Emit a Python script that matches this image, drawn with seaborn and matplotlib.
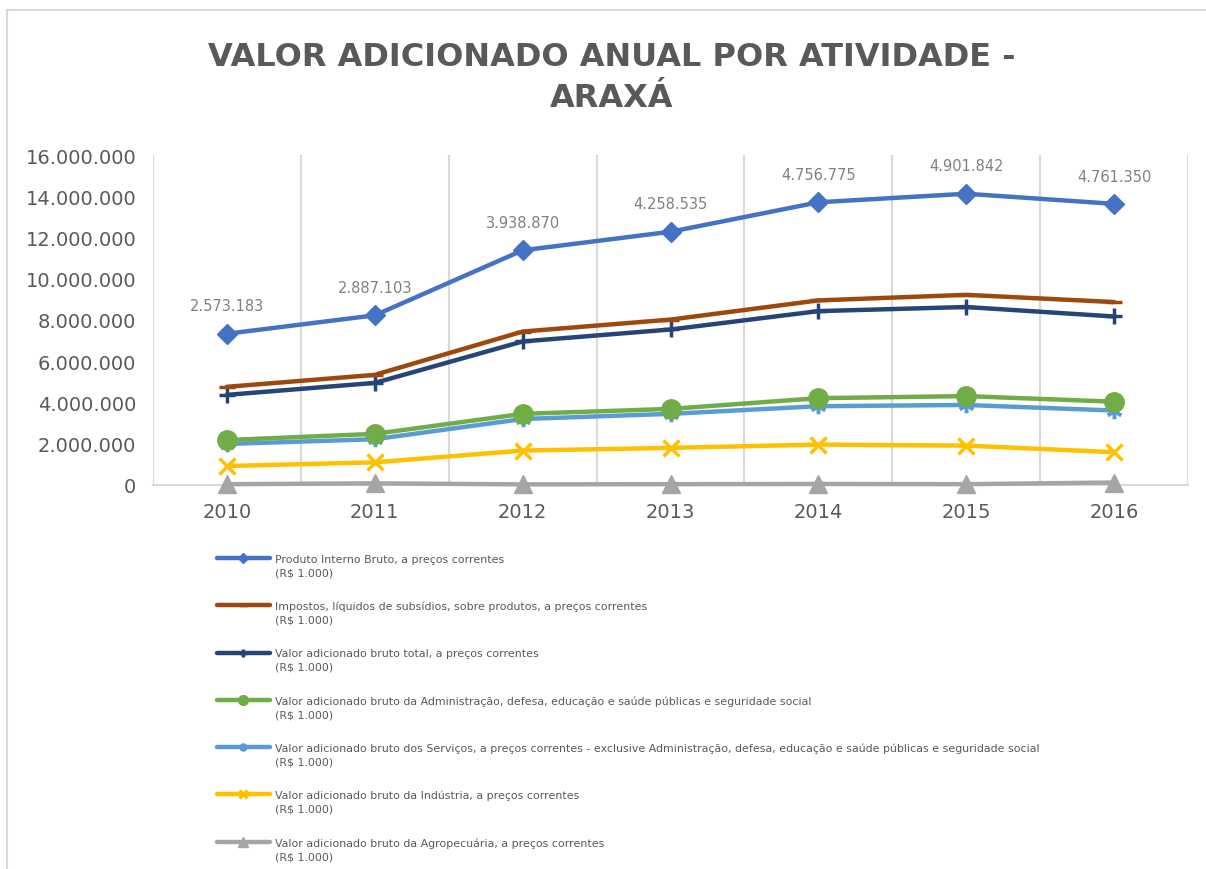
import matplotlib.pyplot as plt
from matplotlib.patches import Rectangle
from matplotlib.ticker import FuncFormatter
from matplotlib.legend_handler import HandlerLine2D
import seaborn as sns
import pandas as pd
import numpy as np

# valores em R$ 1.000 (grafico de linhas empilhadas, como no Excel)
anos = [2010, 2011, 2012, 2013, 2014, 2015, 2016]
pib = [2573183, 2887103, 3938870, 4258535, 4756775, 4901842, 4761350]
impostos = [390000, 390000, 480000, 480000, 520000, 590000, 700000]
va_total = [2190000, 2470000, 3510000, 3850000, 4220000, 4320000, 4130000]
admin = [190000, 260000, 250000, 240000, 390000, 430000, 430000]
servicos = [1070000, 1120000, 1530000, 1650000, 1860000, 1970000, 2020000]
industria = [880000, 1020000, 1640000, 1760000, 1910000, 1870000, 1470000]
agro = [40000, 80000, 30000, 40000, 50000, 40000, 120000]

nomes = [
    'Valor adicionado bruto da Agropecuária, a preços correntes',
    'Valor adicionado bruto da Indústria, a preços correntes',
    'Valor adicionado bruto dos Serviços, a preços correntes - exclusive Administração, defesa, educação e saúde públicas e seguridade social',
    'Valor adicionado bruto da Administração, defesa, educação e saúde públicas e seguridade social',
    'Valor adicionado bruto total, a preços correntes',
    'Impostos, líquidos de subsídios, sobre produtos, a preços correntes',
    'Produto Interno Bruto, a preços correntes',
]
valores = [agro, industria, servicos, admin, va_total, impostos, pib]

# estilo de cada serie (mesma ordem de empilhamento)
cores = ['#A5A5A5', '#FFC000', '#5B9BD5', '#70AD47', '#264478', '#9E480E', '#4472C4']
marcadores = ['^', 'x', (6, 2, 0), 'o', '+', '_', 'D']
tamanhos = [13, 11, 11, 14, 12, 11, 10]


class HandlerTopo(HandlerLine2D):
    """sobe o simbolo da legenda para a primeira linha do texto"""
    def create_artists(self, legend, orig_handle, xdescent, ydescent, width,
                       height, fontsize, trans):
        arts = super().create_artists(legend, orig_handle, xdescent, ydescent,
                                      width, height, fontsize, trans)
        for a in arts:
            a.set_ydata(np.asarray(a.get_ydata()) + 5.5)
        return arts


# monta tabela longa com o acumulado
partes = []
acum = np.zeros(len(anos))
for nome, v in zip(nomes, valores):
    acum = acum + np.array(v)
    partes.append(pd.DataFrame({'ano': anos, 'valor': v, 'acumulado': acum.copy(),
                                'serie': nome + '\n(R$ 1.000)'}))
df = pd.concat(partes, ignore_index=True)

sns.set_style('white')
plt.rcParams['font.family'] = ['DejaVu Sans']

fig = plt.figure(figsize=(12.06, 8.7), dpi=100)
ax = fig.add_axes([153/1206, 1-486/870, (1188-153)/1206, (486-156)/870])

for i, serie in enumerate(df['serie'].unique()):
    sub = df[df['serie'] == serie]
    sns.lineplot(data=sub, x='ano', y='acumulado', ax=ax, color=cores[i],
                 marker=marcadores[i], markersize=tamanhos[i], lw=3.2,
                 mec=cores[i], mew=2.5 if i in (1, 2, 4, 5) else 1,
                 label=serie, zorder=3 + i, clip_on=False)

# rotulos do PIB
sub = df[df['serie'].str.startswith('Produto')]
for _, r in sub.iterrows():
    ax.annotate(f"{int(r['valor']):,}".replace(',', '.'), (r['ano'], r['acumulado']),
                xytext=(0, 20), textcoords='offset points', ha='center', va='center',
                fontsize=10.5, color='#808080')

ax.set_xlim(2009.5, 2016.5)
ax.set_ylim(0, 16000000)
ax.set_yticks(np.arange(0, 16000001, 2000000))
ax.yaxis.set_major_formatter(FuncFormatter(lambda v, p: f"{int(v):,}".replace(',', '.')))
ax.set_xticks(anos)
ax.set_xticklabels([str(a) for a in anos])
ax.set_xticks(np.arange(2009.5, 2017, 1), minor=True)
ax.grid(which='minor', axis='x', color='#d9d9d9', lw=1.5)
ax.grid(which='major', visible=False)
ax.tick_params(axis='both', which='both', length=0, labelsize=14, colors='#595959', pad=12)
ax.set_xlabel('')
ax.set_ylabel('')
for s in ['top', 'right', 'left']:
    ax.spines[s].set_visible(False)
ax.spines['bottom'].set_color('#d9d9d9')
ax.spines['bottom'].set_linewidth(1.5)

ax.get_legend().remove()
h, l = ax.get_legend_handles_labels()
leg = fig.legend(h[::-1], l[::-1], loc='upper left', bbox_to_anchor=(217/1206, 1-555/870),
                 frameon=False, fontsize=7.9, labelcolor='#595959', handlelength=4.8,
                 handletextpad=0.45, labelspacing=2.12, borderpad=0, borderaxespad=0,
                 markerscale=0.5, handler_map={plt.Line2D: HandlerTopo()})
for t in leg.get_texts():
    t.set_linespacing(1.45)

fig.text(0.507, 1-78/870, 'VALOR ADICIONADO ANUAL POR ATIVIDADE -\nARAXÁ',
         ha='center', va='center', fontsize=23, fontweight='bold', color='#595959',
         linespacing=1.4)

fig.add_artist(Rectangle((7/1206, -0.05), 1.2, 1.05 - 11/870, transform=fig.transFigure,
                         fill=False, ec='#d9d9d9', lw=1.5))

plt.savefig('out.png', dpi=100)
